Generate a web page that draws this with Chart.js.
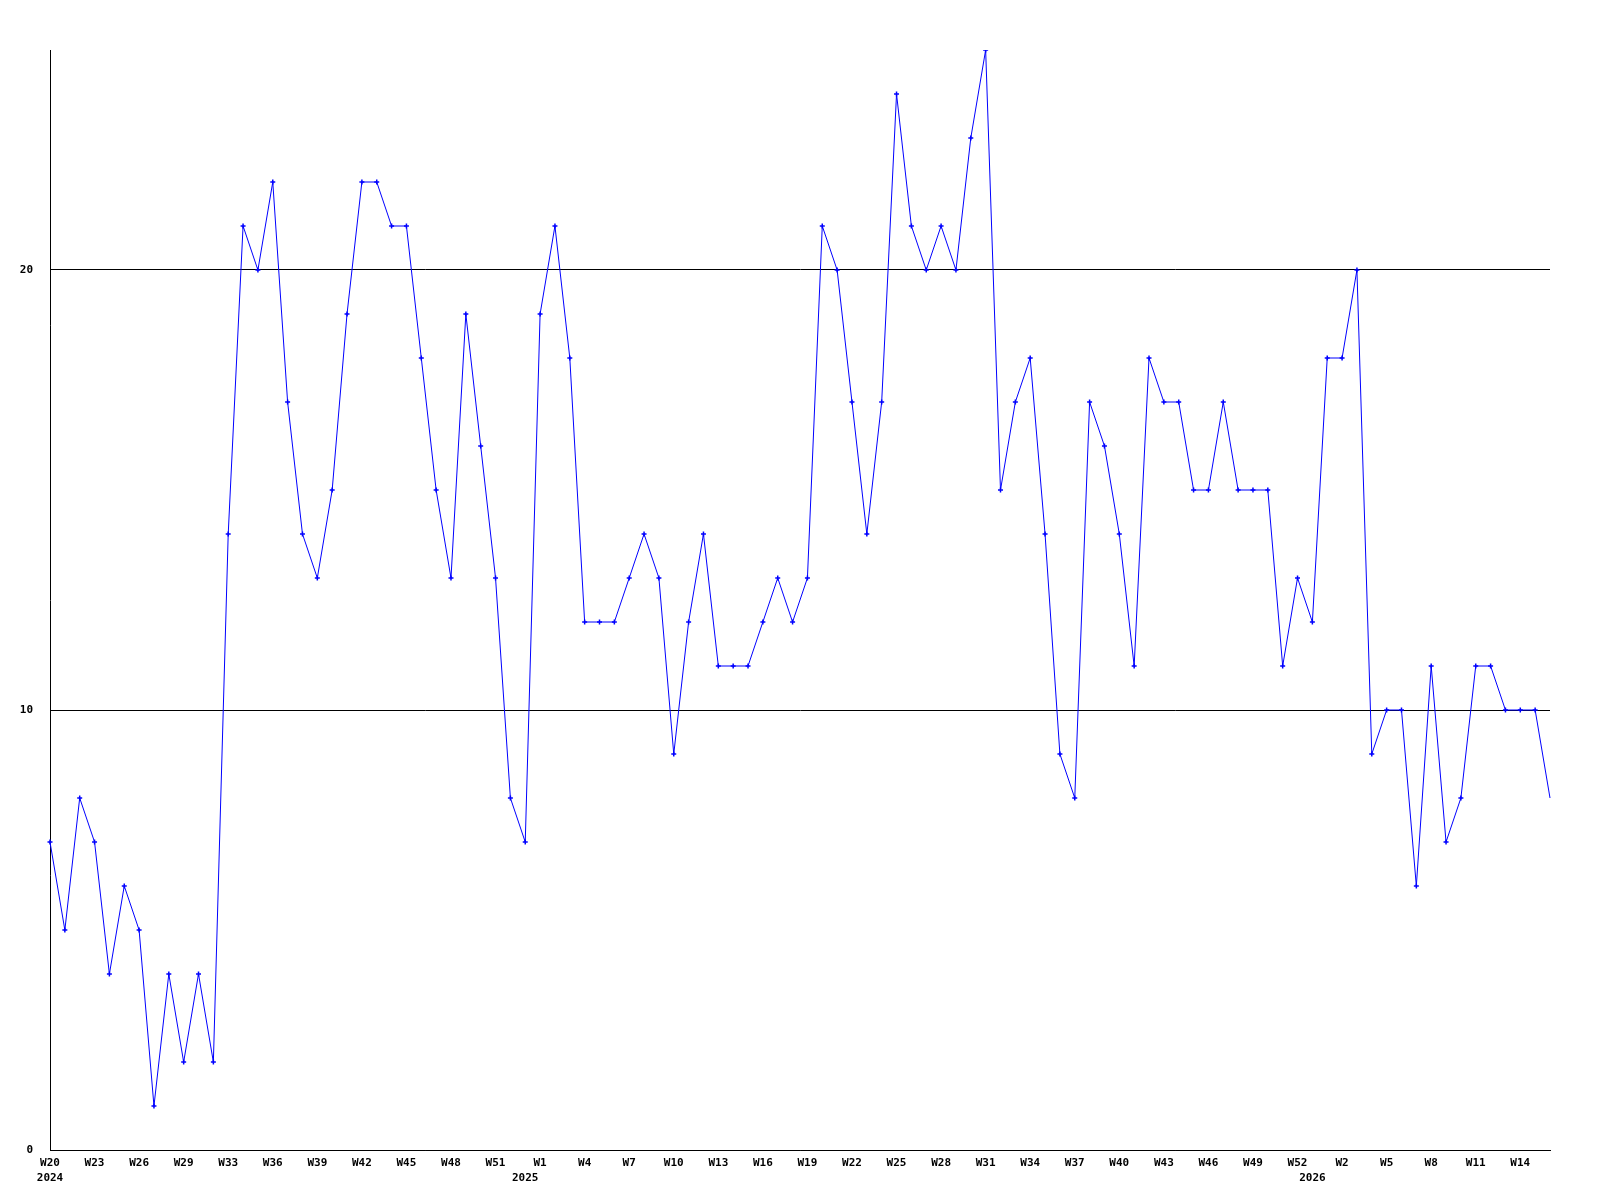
<!DOCTYPE html>
<html>
<head>
<meta charset="utf-8">
<title>Weekly</title>
<script src="https://cdn.jsdelivr.net/npm/chart.js@4/dist/chart.umd.min.js"></script>
<style>
    html, body { margin: 0; padding: 0; background: #fff; }
    canvas { display: block; }
</style>
</head>
<body>
<canvas id="chart" width="1600" height="1200"></canvas>
<script>
// ========== Datos ==========

// Semanas (una por punto), separadas por año
const semanas2024 = ['W20', 'W21', 'W22', 'W23', 'W24', 'W25', 'W26', 'W27', 'W28', 'W29',
    'W30', 'W31', 'W33', 'W34', 'W35', 'W36', 'W37', 'W38', 'W39', 'W40',
    'W41', 'W42', 'W43', 'W44', 'W45', 'W46', 'W47', 'W48', 'W49', 'W50',
    'W51', 'W52'];
const semanas2025 = ['W0', 'W1', 'W2', 'W3', 'W4', 'W5', 'W6', 'W7', 'W8', 'W9',
    'W10', 'W11', 'W12', 'W13', 'W14', 'W15', 'W16', 'W17', 'W18', 'W19',
    'W20', 'W21', 'W22', 'W23', 'W24', 'W25', 'W26', 'W27', 'W28', 'W29',
    'W30', 'W31', 'W32', 'W33', 'W34', 'W35', 'W36', 'W37', 'W38', 'W39',
    'W40', 'W41', 'W42', 'W43', 'W44', 'W45', 'W46', 'W47', 'W48', 'W49',
    'W50', 'W51', 'W52'];
const semanas2026 = ['W0', 'W1', 'W2', 'W3', 'W4', 'W5', 'W6', 'W7', 'W8', 'W9',
    'W10', 'W11', 'W12', 'W13', 'W14', 'W15', 'W16'];

const valores = [
    7, 5, 8, 7, 4, 6, 5, 1, 4, 2,
    4, 2, 14, 21, 20, 22, 17, 14, 13, 15,
    19, 22, 22, 21, 21, 18, 15, 13, 19, 16,
    13, 8, 7, 19, 21, 18, 12, 12, 12, 13,
    14, 13, 9, 12, 14, 11, 11, 11, 12, 13,
    12, 13, 21, 20, 17, 14, 17, 24, 21, 20,
    21, 20, 23, 25, 15, 17, 18, 14, 9, 8,
    17, 16, 14, 11, 18, 17, 17, 15, 15, 17,
    15, 15, 15, 11, 13, 12, 18, 18, 20, 9,
    10, 10, 6, 11, 7, 8, 11, 11, 10, 10,
    10, 8
];

const yTicks = [0, 10, 20];

// ========== Etiquetas ==========

const semanas = [...semanas2024, ...semanas2025, ...semanas2026];
const anios = [
    ...semanas2024.map(() => '2024'),
    ...semanas2025.map(() => '2025'),
    ...semanas2026.map(() => '2026'),
];

// Semana cada 3 puntos; el año va bajo la primera semana de cada año
const etiquetasEje = semanas.map((s, i) => {
    const semana = i % 3 === 0 ? s : '';
    const inicioAnio = i === 0 || anios[i] !== anios[i - 1];
    if (inicioAnio) return [semana, anios[i]];
    return semana;
});

// ========== Gráfica ==========

const fuente = { family: '"DejaVu Sans Mono", monospace', size: 11, weight: 'bold', lineHeight: 1.4 };
const ultimo = valores.length - 1;

new Chart(document.getElementById('chart'), {
    type: 'line',
    data: {
        labels: semanas,
        datasets: [{
            data: valores,
            borderColor: '#0000ff',
            borderWidth: 1,
            tension: 0,
            fill: false,
            pointStyle: 'cross',
            pointRadius: ctx => ctx.dataIndex === ultimo ? 0 : 2.5,
            pointBorderColor: '#0000ff',
            pointBorderWidth: 1.5,
        }]
    },
    options: {
        responsive: false,
        animation: false,
        layout: { padding: { top: 50, right: 50, left: 0, bottom: 0 } },
        plugins: {
            legend: { display: false },
            tooltip: { enabled: false },
        },
        scales: {
            x: {
                offset: false,
                grid: { display: false },
                border: { display: true, color: '#000', width: 1 },
                ticks: {
                    autoSkip: false,
                    maxRotation: 0,
                    minRotation: 0,
                    padding: -3,
                    color: '#000',
                    font: fuente,
                    callback: (v, i) => etiquetasEje[i],
                },
                afterFit: scale => { scale.height = 50; },
            },
            y: {
                min: 0,
                max: 25,
                grid: { color: '#000', lineWidth: 1, drawTicks: false },
                border: { display: true, color: '#000', width: 1 },
                ticks: {
                    stepSize: 10,
                    padding: 17,
                    color: '#000',
                    font: fuente,
                },
                afterBuildTicks: scale => {
                    scale.ticks = yTicks.map(v => ({ value: v }));
                },
                afterFit: scale => { scale.width = 50; },
            }
        }
    }
});
</script>
</body>
</html>
